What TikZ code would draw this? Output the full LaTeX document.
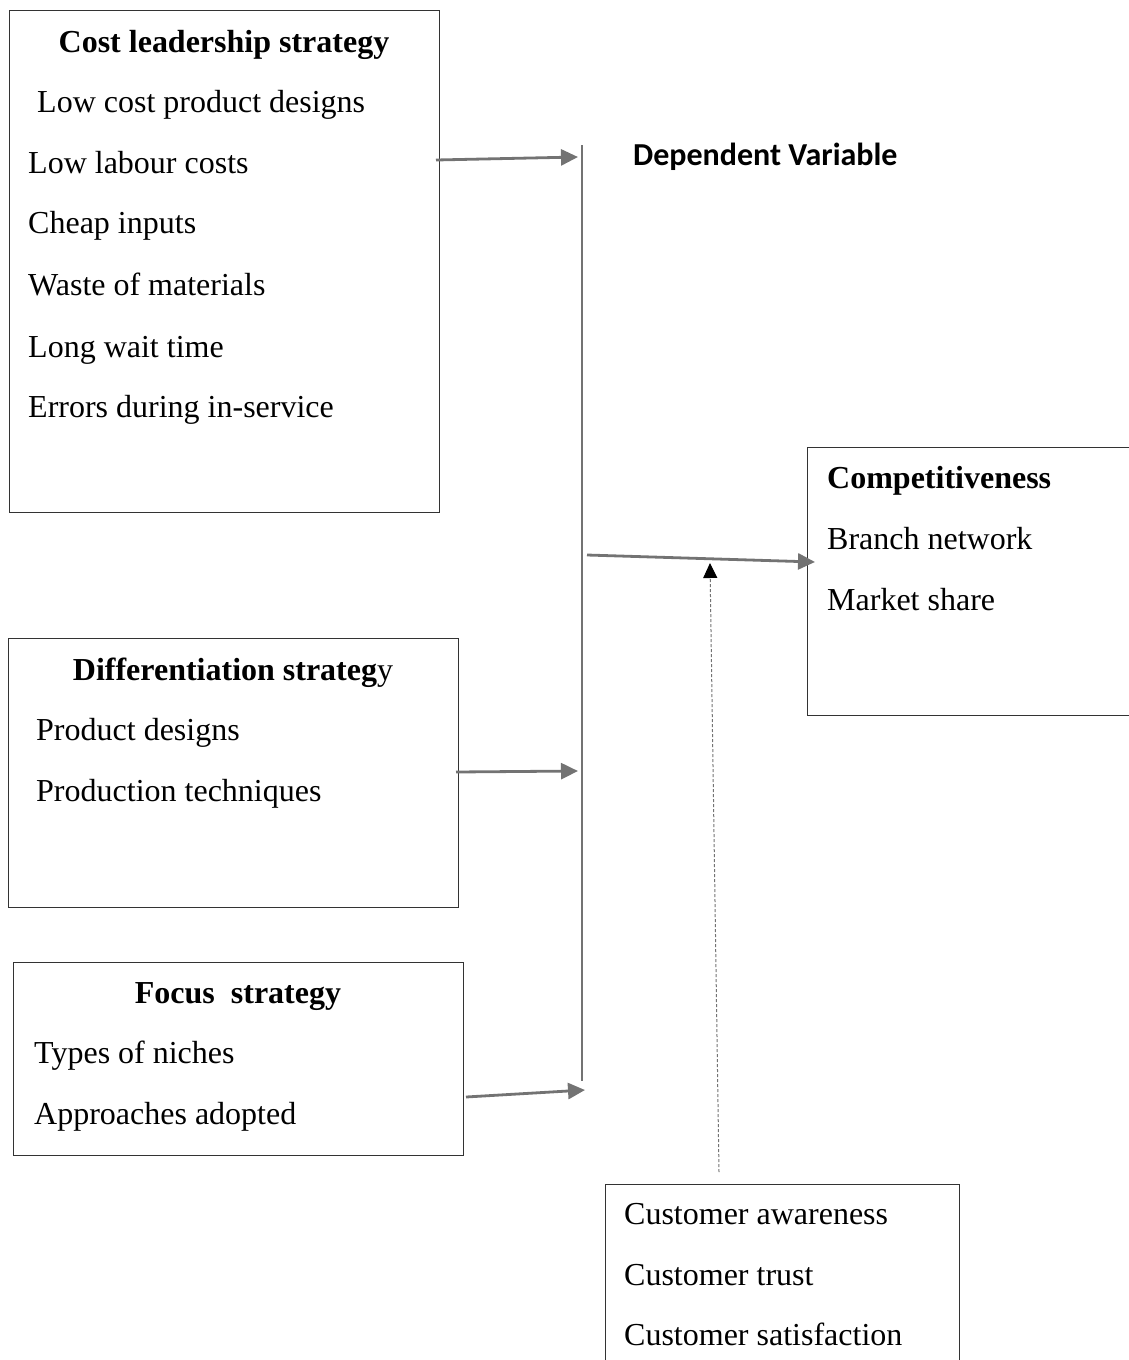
\documentclass[tikz,border=0pt]{standalone}
\usepackage{fontspec}
\setmainfont{Liberation Serif}
\newfontfamily\depfont{Carlito}
\usetikzlibrary{arrows.meta}

\tikzset{
  frame/.style={draw=black!80,line width=1.3pt,anchor=north west,inner sep=0pt},
  entry/.style={anchor=base west,inner sep=0pt,font=\fontsize{32}{38}\selectfont},
  title/.style={anchor=base,inner sep=0pt,font=\fontsize{32}{38}\selectfont\bfseries},
  feed/.style={draw=black!55,line width=2.8pt,-{Triangle[length=17pt,width=16pt]}},
  moderate/.style={draw=black!55,line width=1pt,dash pattern=on 3pt off 2pt,-{Triangle[length=15pt,width=14pt,black]}}
}

\begin{document}
\begin{tikzpicture}[x=1pt,y=-1pt]
  \clip (0,0) rectangle (1129,1360);

  \node[frame,minimum width=430pt,minimum height=502pt] (cost) at (9,10) {};
  \node[frame,minimum width=450pt,minimum height=269pt] (diff) at (8,638) {};
  \node[frame,minimum width=450pt,minimum height=193pt] (focus) at (13,962) {};
  \node[frame,minimum width=340pt,minimum height=268pt] (comp) at (807,447) {};
  \node[frame,minimum width=354pt,minimum height=220pt] (cust) at (605,1184) {};

  \node[title] (costhead) at (224,52) {Cost leadership strategy};
  \foreach \x/\y/\t [count=\i] in {37/112/Low cost product designs,28/173/Low labour costs,
      28/233/Cheap inputs,28/295/Waste of materials,28/357/Long wait time,28/417/Errors during in-service}
    \node[entry] (cost\i) at (\x,\y) {\t};

  \node[title] (diffhead) at (233,680) {Differentiation strateg\mdseries y};
  \foreach \y/\t [count=\i] in {740/Product designs,801/Production techniques}
    \node[entry] (diff\i) at (36,\y) {\t};

  \node[title] (focushead) at (238,1003) {Focus\ \ strategy};
  \foreach \y/\t [count=\i] in {1063/Types of niches,1124/Approaches adopted}
    \node[entry] (focus\i) at (34,\y) {\t};

  \node[entry,font=\fontsize{32}{38}\selectfont\bfseries] (comphead) at (827,488) {Competitiveness};
  \foreach \y/\t [count=\i] in {549/Branch network,610/Market share}
    \node[entry] (comp\i) at (827,\y) {\t};

  \foreach \y/\t [count=\i] in {1224/Customer awareness,1285/Customer trust,1345/Customer satisfaction}
    \node[entry] (cust\i) at (624,\y) {\t};

  \node[entry,font=\depfont\bfseries\fontsize{32}{38}\selectfont] (dep) at (633,165) {Dependent Variable};

  \coordinate (bartop) at (582,145);
  \coordinate (barbot) at (582,1081);
  \draw[draw=black!55,line width=2.8pt] (bartop) -- (barbot);

  \coordinate (costout) at (436,160);   \coordinate (costin) at (578,157);
  \coordinate (diffout) at (456,772);   \coordinate (diffin) at (578,771);
  \coordinate (focusout) at (466,1097); \coordinate (focusin) at (585,1090);
  \coordinate (barout) at (587,555);    \coordinate (compin) at (815,562);
  \coordinate (custout) at (719,1172);  \coordinate (linkin) at (710,563);

  \draw[feed] (costout) -- (costin);
  \draw[feed] (diffout) -- (diffin);
  \draw[feed] (focusout) -- (focusin);
  \draw[feed] (barout) -- (compin);
  \draw[moderate] (custout) -- (linkin);
\end{tikzpicture}
\end{document}
